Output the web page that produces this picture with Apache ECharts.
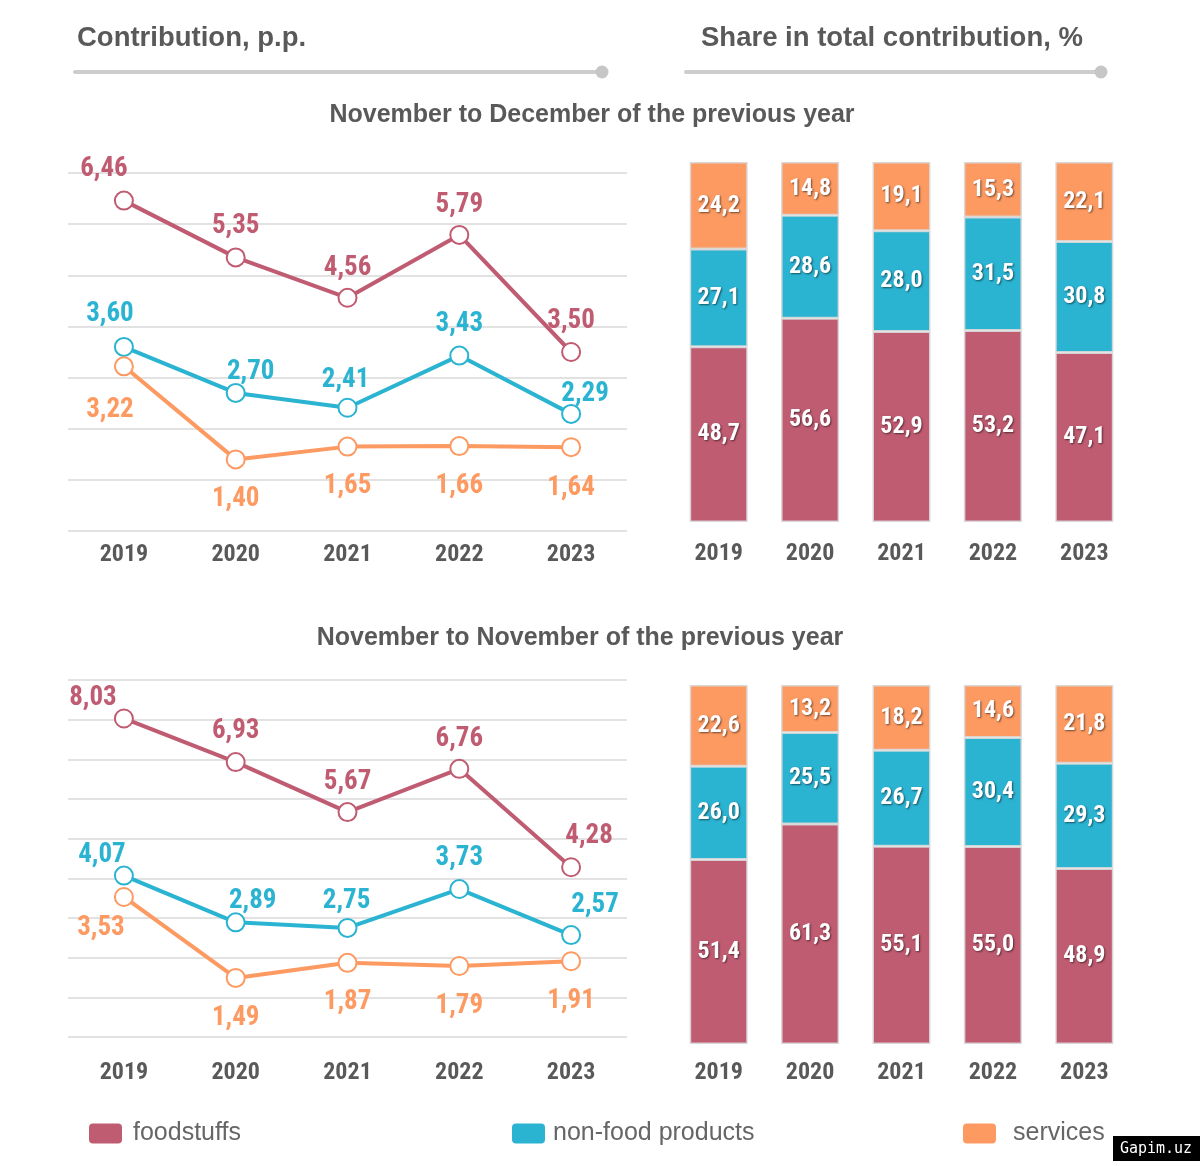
<!DOCTYPE html>
<html><head><meta charset="utf-8">
<script src="https://cdn.jsdelivr.net/npm/echarts@6/dist/echarts.min.js"></script>
<style>html,body{margin:0;padding:0;background:#fff}#c{width:1200px;height:1166px}</style>
</head><body><div id="c"></div>
<script>
// ---------- data ----------
const years = ['2019','2020','2021','2022','2023'];

// November to December of the previous year — contribution, p.p.
const decFood = [6.46, 5.35, 4.56, 5.79, 3.50];
const decNonFood = [3.60, 2.70, 2.41, 3.43, 2.29];
const decServices = [3.22, 1.40, 1.65, 1.66, 1.64];
// share in total contribution, %
const decFoodShare = [48.7, 56.6, 52.9, 53.2, 47.1];
const decNonFoodShare = [27.1, 28.6, 28.0, 31.5, 30.8];
const decServicesShare = [24.2, 14.8, 19.1, 15.3, 22.1];

// November to November of the previous year — contribution, p.p.
const novFood = [8.03, 6.93, 5.67, 6.76, 4.28];
const novNonFood = [4.07, 2.89, 2.75, 3.73, 2.57];
const novServices = [3.53, 1.49, 1.87, 1.79, 1.91];
// share in total contribution, %
const novFoodShare = [51.4, 61.3, 55.1, 55.0, 48.9];
const novNonFoodShare = [26.0, 25.5, 26.7, 30.4, 29.3];
const novServicesShare = [22.6, 13.2, 18.2, 14.6, 21.8];

// ---------- label placement (styling, separate from data) ----------
const offDecFood = [[-20,-31],[0,-31],[0,-30],[0,-30],[0,-31]];
const offDecNon = [[-14,-33],[15,-21],[-2,-27],[0,-31],[14,-20]];
const offDecSrv = [[-14,44],[0,40],[0,40],[0,40],[0,41]];
const offNovFood = [[-31,-20],[0,-31],[0,-30],[0,-30],[18,-31]];
const offNovNon = [[-22,-20],[17,-21],[-1,-27],[0,-31],[24,-30]];
const offNovSrv = [[-23,31],[0,40],[0,39],[0,40],[0,40]];

const C_FOOD = '#c05c72', C_NON = '#2bb3d2', C_SRV = '#fd9a62';
const NUMFONT = "'Roboto Condensed','DejaVu Sans Condensed',sans-serif";
const TXTFONT = "'Liberation Sans','Noto Sans',sans-serif";
const GRAY = '#595959';
const LEGEND_ICON = 'path://M3,0 H28 Q31,0 31,3 V15 Q31,18 28,18 H3 Q0,18 0,15 V3 Q0,0 3,0 Z';

function lineSeries(name, vals, offs, color, gi) {
  return {
    type: 'line', name, xAxisIndex: gi, yAxisIndex: gi,
    data: vals.map((v, i) => ({ value: v, label: { offset: offs[i] } })),
    symbol: 'emptyCircle', symbolSize: 18,
    lineStyle: { color, width: 4 },
    itemStyle: { color, borderColor: color, borderWidth: 4 },
    label: {
      show: true, position: 'inside', color, fontFamily: NUMFONT,
      fontWeight: 'bold', fontSize: 27,
      formatter: p => p.value.toFixed(2).replace('.', ',')
    },
    emphasis: { disabled: true }, z: 3
  };
}
function barSeries(name, vals, color, gi, stack) {
  return {
    type: 'bar', name, stack, xAxisIndex: gi, yAxisIndex: gi,
    data: vals, barWidth: 58,
    itemStyle: { color, borderColor: 'rgba(215,215,215,0.9)', borderWidth: 1.5 },
    label: {
      show: true, position: 'inside', color: '#fff', fontFamily: NUMFONT,
      fontWeight: 'bold', fontSize: 24,
      textShadowColor: 'rgba(0,0,0,0.55)', textShadowBlur: 2,
      textShadowOffsetX: 1, textShadowOffsetY: 1,
      formatter: p => p.value.toFixed(1).replace('.', ',')
    },
    emphasis: { disabled: true }
  };
}

const gridLine = { show: true, lineStyle: { color: '#e2e2e2', width: 2 } };
function xCat(gi, margin) {
  return {
    type: 'category', gridIndex: gi, data: years, boundaryGap: true,
    axisLine: { show: false }, axisTick: { show: false },
    axisLabel: { color: GRAY, fontFamily: NUMFONT, fontWeight: 'bold', fontSize: 24, margin }
  };
}
function yVal(gi, max) {
  return {
    type: 'value', gridIndex: gi, min: 0, max, interval: 1,
    axisLine: { show: false }, axisTick: { show: false }, axisLabel: { show: false },
    splitLine: gridLine
  };
}
function legendItem(name, color, left, gap) {
  return {
    data: [{ name, itemStyle: { color } }], left, top: 1116,
    icon: LEGEND_ICON, itemWidth: 31, itemHeight: 18,
    textStyle: { color: '#666', fontFamily: TXTFONT, fontSize: 25, padding: [0, 0, 0, gap] },
    selectedMode: false
  };
}

const option = {
  animation: false,
  backgroundColor: '#fff',
  grid: [
    { left: 68, right: 573, top: 173, bottom: 635 },
    { left: 673, right: 70, top: 162, bottom: 644 },
    { left: 68, right: 573, top: 680, bottom: 129 },
    { left: 673, right: 70, top: 685, bottom: 122 }
  ],
  xAxis: [xCat(0, 12), xCat(1, 20), xCat(2, 24), xCat(3, 17)],
  yAxis: [
    yVal(0, 7),
    { type: 'value', gridIndex: 1, min: 0, max: 100, show: false },
    yVal(2, 9),
    { type: 'value', gridIndex: 3, min: 0, max: 100, show: false }
  ],
  legend: [
    legendItem('foodstuffs', C_FOOD, 84, 7),
    legendItem('non-food products', C_NON, 507, 4),
    legendItem('services', C_SRV, 958, 13)
  ],
  series: [
    lineSeries('foodstuffs', decFood, offDecFood, C_FOOD, 0),
    lineSeries('non-food products', decNonFood, offDecNon, C_NON, 0),
    lineSeries('services', decServices, offDecSrv, C_SRV, 0),
    barSeries('foodstuffs', decFoodShare, C_FOOD, 1, 'dec'),
    barSeries('non-food products', decNonFoodShare, C_NON, 1, 'dec'),
    barSeries('services', decServicesShare, C_SRV, 1, 'dec'),
    lineSeries('foodstuffs', novFood, offNovFood, C_FOOD, 2),
    lineSeries('non-food products', novNonFood, offNovNon, C_NON, 2),
    lineSeries('services', novServices, offNovSrv, C_SRV, 2),
    barSeries('foodstuffs', novFoodShare, C_FOOD, 3, 'nov'),
    barSeries('non-food products', novNonFoodShare, C_NON, 3, 'nov'),
    barSeries('services', novServicesShare, C_SRV, 3, 'nov')
  ],
  graphic: [
    { type: 'text', x: 77, y: 38, style: { text: 'Contribution, p.p.', fill: GRAY, font: "bold 27.5px " + TXTFONT, textVerticalAlign: 'middle' } },
    { type: 'line', shape: { x1: 75, y1: 72, x2: 602, y2: 72 }, style: { stroke: '#cdcdcd', lineWidth: 4, lineCap: 'round' } },
    { type: 'circle', shape: { cx: 602, cy: 72, r: 6.5 }, style: { fill: '#c6c6c6' } },
    { type: 'text', x: 701, y: 38, style: { text: 'Share in total contribution, %', fill: GRAY, font: "bold 27.5px " + TXTFONT, textVerticalAlign: 'middle' } },
    { type: 'line', shape: { x1: 686, y1: 72, x2: 1101, y2: 72 }, style: { stroke: '#cdcdcd', lineWidth: 4, lineCap: 'round' } },
    { type: 'circle', shape: { cx: 1101, cy: 72, r: 6.5 }, style: { fill: '#c6c6c6' } },
    { type: 'text', x: 592, y: 115, style: { text: 'November to December of the previous year', fill: GRAY, font: "bold 25px " + TXTFONT, textAlign: 'center', textVerticalAlign: 'middle' } },
    { type: 'text', x: 580, y: 638, style: { text: 'November to November of the previous year', fill: GRAY, font: "bold 25px " + TXTFONT, textAlign: 'center', textVerticalAlign: 'middle' } },
    { type: 'rect', shape: { x: 1113, y: 1136, width: 87, height: 25 }, style: { fill: '#000' } },
    { type: 'text', x: 1156, y: 1149, style: { text: 'Gapim.uz', fill: '#fff', font: "15px 'DejaVu Sans Mono',monospace", textAlign: 'center', textVerticalAlign: 'middle' } }
  ]
};
echarts.init(document.getElementById('c'), null, { renderer: 'canvas' }).setOption(option);
</script></body></html>
